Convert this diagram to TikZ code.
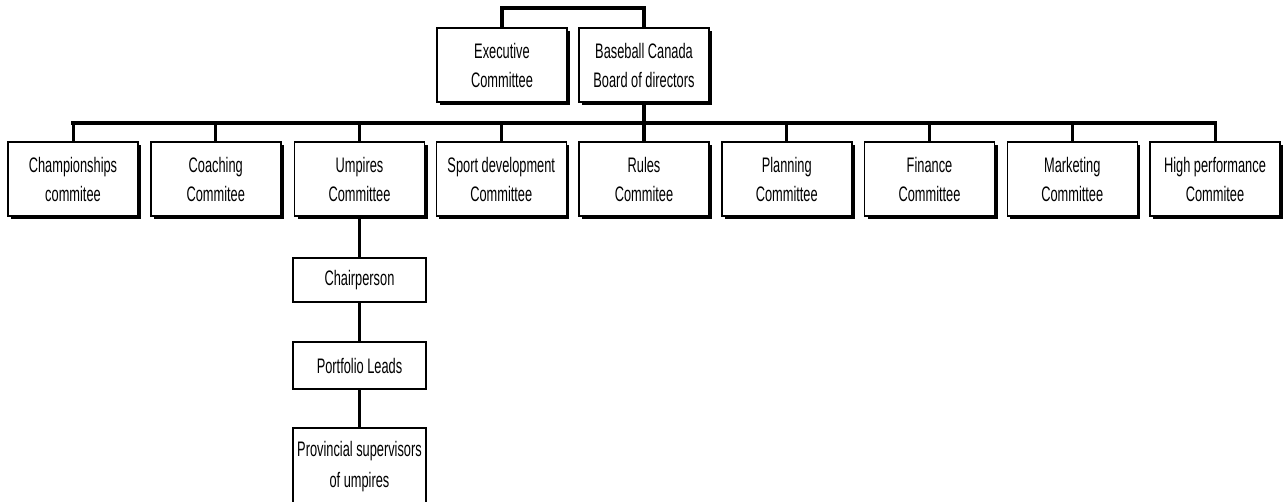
\documentclass[tikz,border=0pt]{standalone}
\usepackage{fontspec}
\setmainfont[FakeStretch=0.61]{Liberation Sans}
\usetikzlibrary{shadows}
\begin{document}
\begin{tikzpicture}[x=1pt,y=-1pt,
  box/.style={draw, line width=1.5pt, fill=white, minimum width=130pt, minimum height=74pt,
    inner sep=0pt, align=center, font=\fontsize{21}{29}\selectfont,
    drop shadow={shadow xshift=3pt, shadow yshift=-3pt, fill=black, opacity=1}},
  sub/.style={draw, line width=1.5pt, fill=white, minimum width=133pt,
    inner sep=0pt, align=center, font=\fontsize{21}{31}\selectfont},
  bar/.style={line width=3.8pt, line cap=rect},
  conn/.style={line width=3pt}]
\path[use as bounding box] (0,0) rectangle (1285,502);
\clip (0,0) rectangle (1285,502);
% top boxes
\node[box] (exec) at (502,65) {Executive\\Committee};
\node[box] (board) at (644,65) {Baseball Canada\\Board of directors};
% committees
\node[box] (c1) at (73,179) {Championships\\commitee};
\node[box] (c2) at (215.75,179) {Coaching\\Commitee};
\node[box] (c3) at (359.5,179) {Umpires\\Committee};
\node[box] (c4) at (501.25,179) {Sport development\\Committee};
\node[box] (c5) at (644,179) {Rules\\Commitee};
\node[box] (c6) at (786.75,179) {Planning\\Committee};
\node[box] (c7) at (929.5,179) {Finance\\Committee};
\node[box] (c8) at (1072.25,179) {Marketing\\Committee};
\node[box] (c9) at (1215,179) {High performance\\Commitee};
% umpires subtree
\node[sub, minimum height=44pt] (chair) at (359.5,280) {Chairperson};
\node[sub, minimum height=47pt] (port) at (359.5,365.5) {Portfolio Leads};
\node[sub, minimum height=77pt] (prov) at (359.5,466.5) {Provincial supervisors\\of umpires};
% top connector
\coordinate (topbar) at (573,8);
\draw[bar] (exec.north) -- (exec.north |- topbar) -- (board.north |- topbar) -- (board.north);
% main bar
\coordinate (mbar) at (644,123);
\draw[bar] (board.south) -- (board.south |- mbar);
\draw[bar] (c1.north |- mbar) -- (c9.north |- mbar);
\foreach \n in {c1,c2,c3,c4,c6,c7,c8,c9}
  \draw[conn] (\n.north |- mbar) -- (\n.north);
\draw[bar] (c5.north |- mbar) -- (c5.north);
% subtree connectors
\draw[conn] (c3.south) -- (chair.north);
\draw[conn] (chair.south) -- (port.north);
\draw[conn] (port.south) -- (prov.north);
\end{tikzpicture}
\end{document}
